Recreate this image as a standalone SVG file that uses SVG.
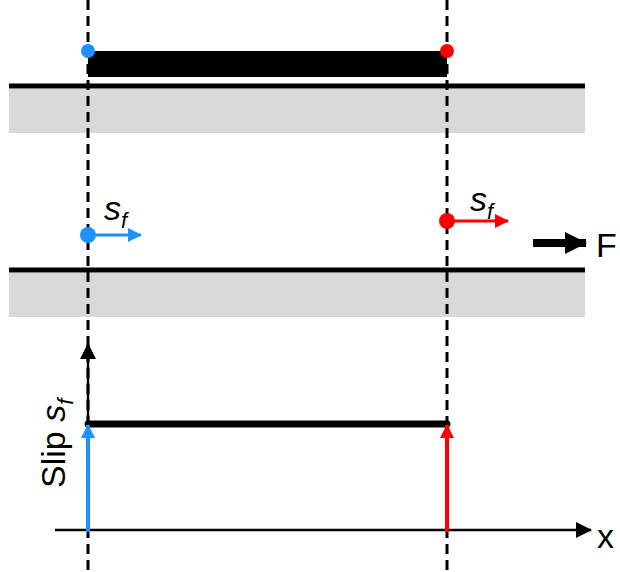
<svg xmlns="http://www.w3.org/2000/svg" width="620" height="572" viewBox="0 0 620 572">
<style>
.dash{stroke:#000;stroke-width:3;stroke-dasharray:10,6;fill:none}
.band{fill:#D9D9D9}
.lbl{font-family:"Liberation Sans",Arial,sans-serif;font-size:34px;fill:#000}
.it{font-style:italic}
</style>
<defs>
<marker id="ab" markerWidth="14" markerHeight="14" refX="13" refY="7" orient="auto" markerUnits="userSpaceOnUse" viewBox="0 0 14 14"><path d="M0,0 L14,7 L0,14 z" fill="#1E90FF"/></marker>
<marker id="ar" markerWidth="14" markerHeight="14" refX="13" refY="7" orient="auto" markerUnits="userSpaceOnUse" viewBox="0 0 14 14"><path d="M0,0 L14,7 L0,14 z" fill="#FF0000"/></marker>
<marker id="ak" markerWidth="16" markerHeight="16" refX="15" refY="8" orient="auto" markerUnits="userSpaceOnUse" viewBox="0 0 16 16"><path d="M0,0 L16,8 L0,16 z" fill="#000"/></marker>
<marker id="af" markerWidth="22" markerHeight="22" refX="21" refY="11" orient="auto" markerUnits="userSpaceOnUse" viewBox="0 0 22 22"><path d="M0,0 L22,11 L0,22 z" fill="#000"/></marker>
</defs>
<g id="top-surface">
<rect class="band" x="9" y="89" width="576" height="44"/>
<line x1="9" y1="86" x2="585" y2="86" stroke="#000" stroke-width="5"/>
</g>
<g id="bottom-surface">
<rect class="band" x="9" y="273" width="576" height="44"/>
<line x1="9" y1="270" x2="585" y2="270" stroke="#000" stroke-width="5"/>
</g>
<g id="guides">
<line class="dash" x1="88" y1="0" x2="88" y2="572"/>
<line class="dash" x1="447" y1="0" x2="447" y2="572"/>
</g>
<g id="bar">
<rect x="88" y="51" width="359" height="26" fill="#000"/>
<circle cx="88" cy="51" r="7" fill="#1E90FF"/>
<circle cx="447" cy="51" r="7" fill="#FF0000"/>
</g>
<g id="blue-slip">
<circle cx="88" cy="235" r="8" fill="#1E90FF"/>
<line x1="88" y1="235" x2="141" y2="235" stroke="#1E90FF" stroke-width="3" marker-end="url(#ab)"/>
<text class="lbl" x="104" y="220"><tspan class="it">s</tspan><tspan class="it" font-size="22" dy="8">f</tspan></text>
</g>
<g id="red-slip">
<circle cx="447" cy="221" r="8" fill="#FF0000"/>
<line x1="447" y1="221" x2="508" y2="221" stroke="#FF0000" stroke-width="3" marker-end="url(#ar)"/>
<text class="lbl" x="470" y="211"><tspan class="it">s</tspan><tspan class="it" font-size="22" dy="8">f</tspan></text>
</g>
<g id="force">
<line x1="533" y1="243" x2="586" y2="243" stroke="#000" stroke-width="8" marker-end="url(#af)"/>
<text class="lbl" x="596" y="257" font-size="37">F</text>
</g>
<g id="graph">
<line x1="88" y1="532" x2="88" y2="344" stroke="#000" stroke-width="2.5" marker-end="url(#ak)"/>
<line x1="55" y1="530" x2="591" y2="530" stroke="#000" stroke-width="2.5" marker-end="url(#ak)"/>
<line x1="88" y1="424" x2="447" y2="424" stroke="#000" stroke-width="7" stroke-linecap="round"/>
<line x1="88" y1="532" x2="88" y2="425" stroke="#1E90FF" stroke-width="4" marker-end="url(#ab)"/>
<line x1="447" y1="532" x2="447" y2="425" stroke="#FF0000" stroke-width="4" marker-end="url(#ar)"/>
<text class="lbl" transform="translate(65,488) rotate(-90)">Slip <tspan class="it">s</tspan><tspan class="it" font-size="22" dy="8">f</tspan></text>
<text class="lbl" x="597" y="548" font-size="36">x</text>
</g>
</svg>
